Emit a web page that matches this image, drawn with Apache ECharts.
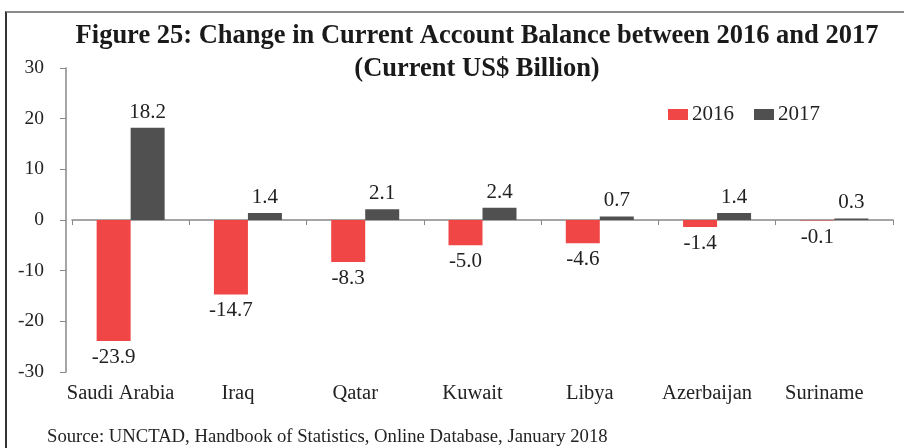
<!DOCTYPE html>
<html>
<head>
<meta charset="utf-8">
<script src="https://cdn.jsdelivr.net/npm/echarts@6/dist/echarts.min.js"></script>
<style>
  html, body { margin: 0; padding: 0; background: #fff; }
  #frame { position: absolute; left: 5px; top: 11px; width: 920px; height: 460px;
           border-top: 2px solid #8a8a8a; border-left: 2px solid #333; box-sizing: border-box; }
  #chart { position: absolute; left: 0; top: 0; width: 904px; height: 448px; }
</style>
</head>
<body>
<div id="frame"></div>
<div id="chart"></div>
<script>
const categories = ['Saudi Arabia', 'Iraq', 'Qatar', 'Kuwait', 'Libya', 'Azerbaijan', 'Suriname'];
const seriesNames = ['2016', '2017'];
const values2016 = [-23.9, -14.7, -8.3, -5.0, -4.6, -1.4, -0.1];
const values2017 = [18.2, 1.4, 2.1, 2.4, 0.7, 1.4, 0.3];
const yTicks = [-30, -20, -10, 0, 10, 20, 30];

const font = 'Liberation Serif';
const chart = echarts.init(document.getElementById('chart'), null, { renderer: 'canvas' });
chart.setOption({
  animation: false,
  backgroundColor: 'transparent',
  title: [
    {
      text: 'Figure 25: Change in Current Account Balance between 2016 and 2017\n(Current US$ Billion)',
      left: 472, top: 15, textAlign: 'center',
      textStyle: { fontFamily: font, fontWeight: 'bold', fontSize: 26.5, lineHeight: 33, color: '#1a1a1a' }
    },
    {
      text: 'Source: UNCTAD, Handbook of Statistics, Online Database, January 2018',
      left: 42, top: 423,
      textStyle: { fontFamily: font, fontWeight: 'normal', fontSize: 18.7, color: '#222' }
    }
  ],
  legend: {
    data: seriesNames,
    left: 663, top: 99,
    itemWidth: 20, itemHeight: 11, itemGap: 20,
    icon: 'rect',
    textStyle: { fontFamily: font, fontSize: 21, color: '#222', padding: [0, 0, 0, -1] }
  },
  grid: { left: 72, right: 11, top: 68, bottom: 76 },
  xAxis: [
    {
      type: 'category', data: categories,
      axisLine: { onZero: true, lineStyle: { color: '#888', width: 1.5 } },
      axisTick: { show: true, length: 5, lineStyle: { color: '#888' } },
      axisLabel: { show: false }
    },
    {
      type: 'category', data: categories, position: 'bottom',
      axisLine: { show: false, onZero: false },
      axisTick: { show: false },
      axisLabel: { interval: 0, fontFamily: font, fontSize: 20.5, color: '#222', margin: 11, padding: [0, 20, 0, 0] }
    }
  ],
  yAxis: {
    type: 'value', min: yTicks[0], max: yTicks[yTicks.length - 1], interval: 10,
    offset: 6,
    axisLine: { show: true, lineStyle: { color: '#888', width: 1.5 } },
    axisTick: { show: true, length: 6, lineStyle: { color: '#888' } },
    splitLine: { show: false },
    axisLabel: { fontFamily: font, fontSize: 19.5, color: '#222', margin: 22 }
  },
  series: [
    {
      name: seriesNames[0], type: 'bar', data: values2016, xAxisIndex: 0,
      barWidth: 34, barGap: '0%',
      itemStyle: { color: '#F04646' },
      label: { show: true, position: 'bottom', distance: 6, fontFamily: font, fontSize: 21, color: '#222',
               formatter: p => p.value.toFixed(1) }
    },
    {
      name: seriesNames[1], type: 'bar', data: values2017, xAxisIndex: 0,
      barWidth: 34, barGap: '0%',
      itemStyle: { color: '#505050' },
      label: { show: true, position: 'top', distance: 5, fontFamily: font, fontSize: 21, color: '#222',
               formatter: p => p.value.toFixed(1) }
    }
  ]
});
</script>
</body>
</html>
